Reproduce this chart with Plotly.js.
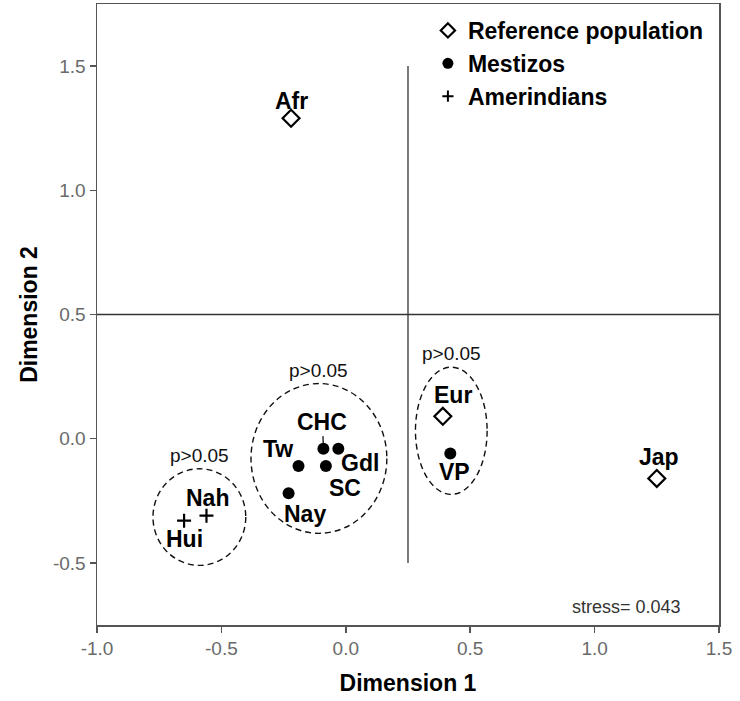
<!DOCTYPE html>
<html>
<head>
<meta charset="utf-8">
<script src="https://cdn.plot.ly/plotly-3.0.1.min.js"></script>
<style>
html,body{margin:0;padding:0;background:#fff;}
#chart{width:740px;height:701px;}
</style>
</head>
<body>
<div id="chart"></div>
<script>
// ---- data ----
var refNames = ['Afr', 'Eur', 'Jap'];
var refX = [-0.22, 0.39, 1.25];
var refY = [1.29, 0.09, -0.16];

var mesNames = ['CHC', 'Gdl', 'Tw', 'SC', 'Nay', 'VP'];
var mesX = [-0.09, -0.03, -0.19, -0.08, -0.23, 0.42];
var mesY = [-0.04, -0.04, -0.11, -0.11, -0.22, -0.06];

var ameNames = ['Hui', 'Nah'];
var ameX = [-0.65, -0.56];
var ameY = [-0.33, -0.31];

var seriesNames = ['Reference population', 'Mestizos', 'Amerindians'];

var xTickVals = [-1.0, -0.5, 0.0, 0.5, 1.0, 1.5];
var yTickVals = [-0.5, 0.0, 0.5, 1.0, 1.5];

// grouping ellipses (p>0.05): [x0, x1, y0, y1]
var groupX0 = [-0.775, -0.381, 0.280];
var groupX1 = [-0.402, 0.165, 0.568];
var groupY0 = [-0.510, -0.381, -0.224];
var groupY1 = [-0.121, 0.222, 0.288];
var groupLabel = ['p>0.05', 'p>0.05', 'p>0.05'];

var refLineX = 0.25;
var refLineY = 0.5;
var stressText = 'stress= 0.043';

// ---- label placement (pixel offsets, styling only) ----
var labelOffsets = {
  'Afr': {dx: 0, dy: -17},
  'Eur': {dx: 10, dy: -21},
  'Jap': {dx: 2, dy: -21},
  'Tw':  {dx: -21, dy: -17},
  'Nay': {dx: 16, dy: 21},
  'VP':  {dx: 4, dy: 18},
  'Hui': {dx: 0, dy: 18},
  'Nah': {dx: 1, dy: -18}
};
var leaderLabels = {
  'CHC': {ax: -1, ay: -27},
  'Gdl': {ax: 22, ay: 14},
  'SC':  {ax: 19, ay: 22}
};

var FONT = 'Arial, "Liberation Sans", sans-serif';
var labelFont = {family: FONT, size: 23, color: '#000', weight: 'bold'};

function fmt(v) { return v.toFixed(1); } // plain hyphen minus like the reference

var refMarker = {symbol: 'diamond-open', size: 13, color: '#000', line: {width: 2.2, color: '#000'}};
var mesMarker = {symbol: 'circle', size: 12, color: '#000', line: {width: 0}};
var ameMarker = {symbol: 'cross-thin-open', size: 10, color: '#000', line: {width: 2.2, color: '#000'}};

var traces = [
  {x: refX, y: refY, text: refNames, name: seriesNames[0], type: 'scatter', mode: 'markers',
   showlegend: false, marker: refMarker},
  {x: mesX, y: mesY, text: mesNames, name: seriesNames[1], type: 'scatter', mode: 'markers',
   showlegend: false, marker: mesMarker},
  {x: ameX, y: ameY, text: ameNames, name: seriesNames[2], type: 'scatter', mode: 'markers',
   showlegend: false, marker: ameMarker},
  // legend entries (smaller symbols, as in the reference key)
  {x: [null], y: [null], name: seriesNames[0], type: 'scatter', mode: 'markers', legendgroup: 'a',
   marker: {symbol: 'diamond-open', size: 11, color: '#000', line: {width: 2.2, color: '#000'}}},
  {x: [null], y: [null], name: seriesNames[1], type: 'scatter', mode: 'markers', legendgroup: 'b',
   marker: {symbol: 'circle', size: 11, color: '#000', line: {width: 0}}},
  {x: [null], y: [null], name: seriesNames[2], type: 'scatter', mode: 'markers', legendgroup: 'c',
   marker: {symbol: 'cross-thin-open', size: 8, color: '#000', line: {width: 2, color: '#000'}}}
];

var annotations = [];
function addLabels(names, xs, ys) {
  for (var i = 0; i < names.length; i++) {
    var n = names[i];
    if (leaderLabels[n]) {
      annotations.push({x: xs[i], y: ys[i], xref: 'x', yref: 'y', text: '<b>' + n + '</b>',
        showarrow: true, arrowhead: 0, arrowwidth: 1.2, arrowcolor: '#000', standoff: 4,
        ax: leaderLabels[n].ax, ay: leaderLabels[n].ay, font: labelFont});
    } else {
      var o = labelOffsets[n];
      annotations.push({x: xs[i], y: ys[i], xref: 'x', yref: 'y', text: '<b>' + n + '</b>',
        showarrow: false, xshift: o.dx, yshift: -o.dy, font: labelFont});
    }
  }
}
addLabels(refNames, refX, refY);
addLabels(mesNames, mesX, mesY);
addLabels(ameNames, ameX, ameY);

var shapes = [
  {type: 'line', xref: 'x', yref: 'y', x0: refLineX, x1: refLineX, y0: -0.5, y1: 1.5,
   line: {color: '#333', width: 1.3}},
  {type: 'line', xref: 'x', yref: 'y', x0: -1, x1: 1.5, y0: refLineY, y1: refLineY,
   line: {color: '#333', width: 1.3}}
];
for (var g = 0; g < groupX0.length; g++) {
  shapes.push({type: 'circle', xref: 'x', yref: 'y',
    x0: groupX0[g], x1: groupX1[g], y0: groupY0[g], y1: groupY1[g],
    line: {color: '#111', width: 1.4, dash: '6px,4px'}});
  annotations.push({x: (groupX0[g] + groupX1[g]) / 2, y: groupY1[g], xref: 'x', yref: 'y',
    text: groupLabel[g], showarrow: false, yanchor: 'bottom', yshift: 1,
    font: {family: FONT, size: 19, color: '#111'}});
}
annotations.push({x: 1.355, y: -0.75, xref: 'x', yref: 'y', text: stressText, showarrow: false,
  xanchor: 'right', yanchor: 'bottom', yshift: 6, font: {family: FONT, size: 18, color: '#333'}});

var axisCommon = {
  showline: true, mirror: true, linecolor: '#555', linewidth: 1.5,
  ticks: 'outside', ticklen: 6, tickwidth: 1.5, tickcolor: '#555',
  showgrid: false, zeroline: false, tickmode: 'array',
  tickfont: {family: FONT, size: 19, color: '#6a6a6a'},
  automargin: false
};

var layout = {
  width: 740, height: 701,
  margin: {l: 97, r: 21, t: 4, b: 76},
  paper_bgcolor: '#fff', plot_bgcolor: '#fff',
  showlegend: true,
  legend: {x: 0.532, y: 0.992, xanchor: 'left', yanchor: 'top', bgcolor: 'rgba(0,0,0,0)',
    font: {family: FONT, size: 23, color: '#000', weight: 'bold'}, tracegroupgap: 0,
    itemclick: false},
  xaxis: Object.assign({}, axisCommon, {range: [-1, 1.5],
    tickvals: xTickVals, ticktext: xTickVals.map(fmt),
    title: {text: '<b>Dimension 1</b>', standoff: 16, font: {family: FONT, size: 23, color: '#000'}}}),
  yaxis: Object.assign({}, axisCommon, {range: [-0.75, 1.75],
    tickvals: yTickVals, ticktext: yTickVals.map(fmt),
    title: {text: '<b>Dimension 2</b>', standoff: 9, font: {family: FONT, size: 23, color: '#000'}}}),
  shapes: shapes,
  annotations: annotations
};

Plotly.newPlot('chart', traces, layout, {displayModeBar: false, staticPlot: true});
</script>
</body>
</html>
